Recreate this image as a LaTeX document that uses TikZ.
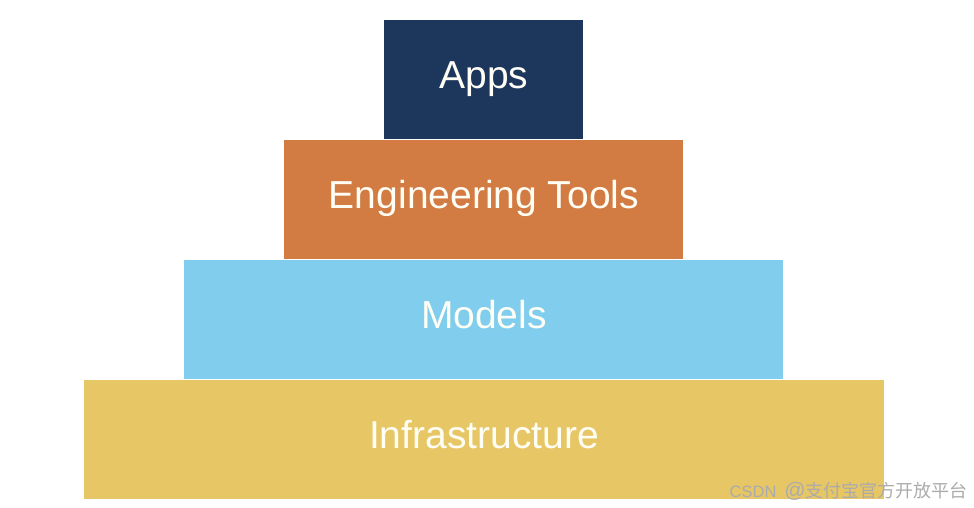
\documentclass[tikz,border=0pt]{standalone}
\usepackage{fontspec}
\setmainfont{Liberation Sans}
\newfontfamily\cjkfont{Noto Sans CJK SC}
\definecolor{navy}{HTML}{1C365C}
\definecolor{rust}{HTML}{D27B43}
\definecolor{sky}{HTML}{80CDEE}
\definecolor{sand}{HTML}{E7C665}
\definecolor{wmgray}{HTML}{ABABAB}
\begin{document}
\begin{tikzpicture}[x=1pt,y=-1pt,
  layer/.style={rectangle,inner sep=0pt,outer sep=0pt,minimum height=119.5pt},
  label/.style={anchor=base,inner sep=0pt,text=white!96!yellow,font=\fontsize{39}{39}\selectfont}]
\useasboundingbox (0,0) rectangle (974,508);
\node[layer,fill=navy,minimum width=199pt] (apps) at (483.5,79.5) {};
\node[layer,fill=rust,minimum width=399pt] (eng) at (483.5,199.5) {};
\node[layer,fill=sky,minimum width=599pt] (models) at (483.5,319.5) {};
\node[layer,fill=sand,minimum width=800pt] (infra) at (484,439.5) {};
\node[label] (appst) at (484,89) {Apps};
\node[label] (engt) at (484,208.5) {Engineering Tools};
\node[label] (modelst) at (484,328.5) {Models};
\node[label] (infrat) at (484,448) {Infrastructure};
\node[anchor=base east,inner sep=0pt,text=wmgray] (wm) at (968,497.5)
  {{\fontsize{16.5}{16.5}\selectfont CSDN\hspace{8pt}}{\fontsize{21}{21}\selectfont @}{\cjkfont\fontsize{18}{18}\selectfont 支付宝官方开放平台}};
\end{tikzpicture}
\end{document}
